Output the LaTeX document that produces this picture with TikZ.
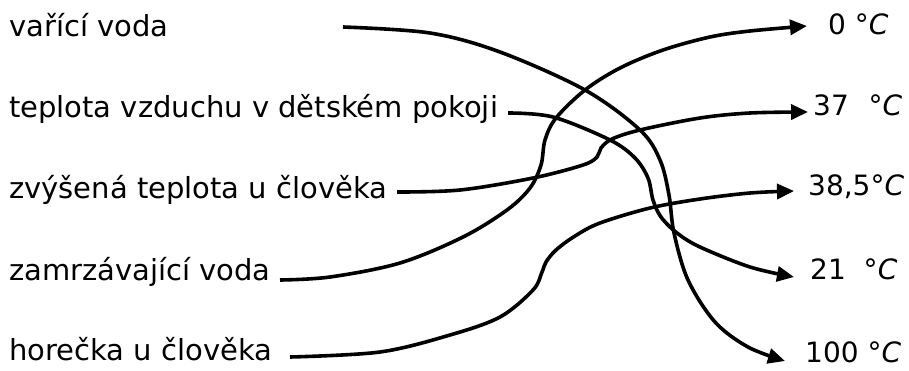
\documentclass[tikz,border=0pt]{standalone}
\usepackage{fontspec}
\setmainfont{DejaVu Sans}
\usetikzlibrary{arrows.meta}
\begin{document}
\begin{tikzpicture}[x=1pt,y=-1pt,
  lbl/.style={inner sep=0pt, anchor=mid west, font=\fontsize{29}{34}\selectfont},
  val/.style={inner sep=0pt, anchor=mid west, font=\fontsize{28}{32}\selectfont},
  link/.style={line width=3.6pt, line join=round, line cap=butt,
    -{Triangle[length=17pt,width=15pt]}},
  curve/.style={smooth, tension=0.55}]
\useasboundingbox (0,0) rectangle (909,370);

% left column
\node[lbl] (a1) at (9,33.5)  {vařící voda};
\node[lbl] (a2) at (9,115)   {teplota vzduchu v dětském pokoji};
\node[lbl] (a3) at (9,196)   {zvýšená teplota u člověka};
\node[lbl] (a4) at (9,278)   {zamrzávající voda};
\node[lbl] (a5) at (9,357.5) {horečka u člověka};

% right column
\node[val] (b1) at (828,32)  {0 °\textit{C}};
\node[val] (b2) at (813,113) {37\hspace{0.71em}°\textit{C}};
\node[val] (b3) at (808,193) {38,5°\textit{C}};
\node[val] (b4) at (810,277) {21\hspace{0.64em}°\textit{C}};
\node[val] (b5) at (805,360) {100 °\textit{C}};

% start and end points of the connectors
\coordinate (s1) at (343,27);  \coordinate (e1) at (785,361);
\coordinate (s2) at (508,113); \coordinate (e2) at (794,277);
\coordinate (s3) at (397,192); \coordinate (e3) at (808,112);
\coordinate (s4) at (280,280); \coordinate (e4) at (807,26);
\coordinate (s5) at (290,357); \coordinate (e5) at (794,191);

% vařící voda -> 100 °C
\draw[link] plot[curve] coordinates {(s1) (430,33) (500,52) (585,90) (640,130)
  (660,160) (669,195) (674,233) (688,280) (715,322) (748,347) (e1)};
% teplota vzduchu -> 21 °C
\draw[link] plot[curve] coordinates {(s2) (553,117) (610,140) (635,158)
  (648,178) (653,200) (661,217) (677,233) (700,247) (750,267) (e2)};
% zvýšená teplota -> 37 °C
\draw[link] plot[curve] coordinates {(s3) (460,190) (533,178) (583,165)
  (597,157) (601,148) (612,139) (640,130) (700,118) (750,113) (e3)};
% zamrzávající voda -> 0 °C
\draw[link] plot[curve] coordinates {(s4) (330,277) (400,263) (463,237)
  (507,210) (530,188) (541,165) (545,140) (556,118) (585,90) (620,68)
  (663,50) (710,37) (750,31) (e4)};
% horečka -> 38,5 °C
\draw[link] plot[curve] coordinates {(s5) (380,352) (450,335) (500,317)
  (533,290) (542,272) (546,262) (556,250) (575,236) (600,223) (650,208)
  (700,199) (750,193) (e5)};
\end{tikzpicture}
\end{document}
